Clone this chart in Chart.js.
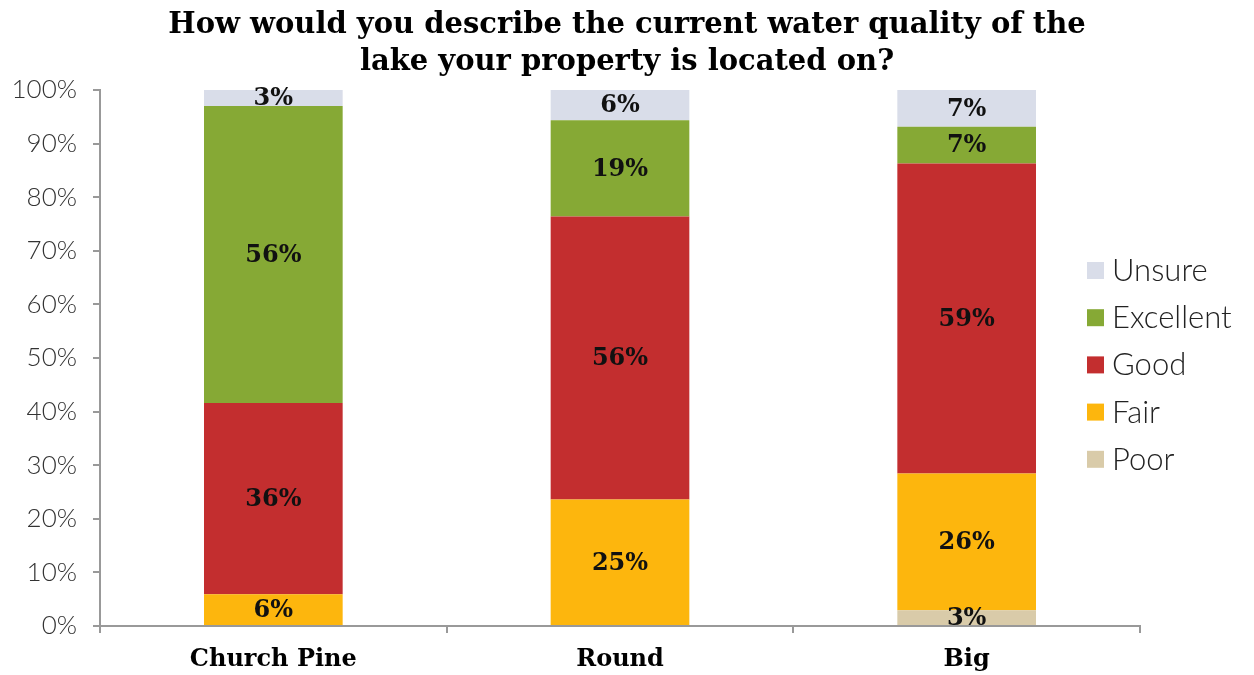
<!DOCTYPE html>
<html>
<head>
<meta charset="utf-8">
<script src="https://cdn.jsdelivr.net/npm/chart.js@4/dist/chart.umd.min.js"></script>
<style>
    html, body { margin: 0; padding: 0; background: #ffffff; }
    #qualityChart { display: block; }
</style>
</head>
<body>
<canvas id="qualityChart" width="1254" height="675"></canvas>
<script>
const lakes = ["Church Pine", "Round", "Big"];
const ratings = ["Poor", "Fair", "Good", "Excellent", "Unsure"];

// survey answers per lake, in percent (rounded, as reported)
const poorValues = [0, 0, 3];
const fairValues = [6, 25, 26];
const goodValues = [36, 56, 59];
const excellentValues = [56, 19, 7];
const unsureValues = [3, 6, 7];

const yTickLabels = ["0%", "10%", "20%", "30%", "40%", "50%", "60%", "70%", "80%", "90%", "100%"];

const titleLines = ["How would you describe the current water quality of the", "lake your property is located on?"];

const ratingColors = {
    Poor: "#d9cba9",
    Fair: "#fdb60d",
    Good: "#c32e2f",
    Excellent: "#86a935",
    Unsure: "#d9dde9"
};

const rawSeries = [poorValues, fairValues, goodValues, excellentValues, unsureValues];

// each bar is stacked to 100%
const totals = lakes.map(function (_, i) {
    return rawSeries.reduce(function (sum, s) { return sum + s[i]; }, 0);
});

const datasets = ratings.map(function (name, k) {
    return {
        label: name,
        data: rawSeries[k].map(function (v, i) { return v / totals[i] * 100; }),
        rawValues: rawSeries[k],
        backgroundColor: ratingColors[name],
        borderWidth: 0,
        categoryPercentage: 0.4,
        barPercentage: 1.0
    };
});

const serifFont = "'DejaVu Serif', Georgia, serif";
const thinFont = "Lato, 'Open Sans', sans-serif";

// title centred on the whole canvas, not just the plot
const pageTitlePlugin = {
    id: "pageTitle",
    afterDraw: function (chart) {
        const ctx = chart.ctx;
        ctx.save();
        ctx.fillStyle = "#000000";
        ctx.font = "bold 29px " + serifFont;
        ctx.textAlign = "center";
        ctx.textBaseline = "alphabetic";
        titleLines.forEach(function (line, n) {
            ctx.fillText(line, chart.width / 2, 33 + n * 37);
        });
        ctx.restore();
    }
};

// value labels in the middle of each segment
const segmentLabelsPlugin = {
    id: "segmentLabels",
    afterDatasetsDraw: function (chart) {
        const ctx = chart.ctx;
        ctx.save();
        ctx.fillStyle = "#111111";
        ctx.font = "bold 24px " + serifFont;
        ctx.textAlign = "center";
        ctx.textBaseline = "middle";
        chart.data.datasets.forEach(function (ds, k) {
            const meta = chart.getDatasetMeta(k);
            meta.data.forEach(function (bar, i) {
                const v = ds.rawValues[i];
                if (!v) {
                    return;
                }
                const mid = (bar.y + bar.base) / 2;
                ctx.fillText(v + "%", bar.x, mid + 1);
            });
        });
        ctx.restore();
    }
};

// legend on the right, top entry is the top segment
const sideLegendPlugin = {
    id: "sideLegend",
    afterDraw: function (chart) {
        const ctx = chart.ctx;
        const x = 1087;
        const startY = 270;
        const step = 47.2;
        ctx.save();
        ctx.font = "300 31px " + thinFont;
        ctx.textBaseline = "middle";
        ctx.textAlign = "left";
        const order = chart.data.datasets.slice().reverse();
        order.forEach(function (ds, n) {
            const y = startY + n * step;
            ctx.fillStyle = ds.backgroundColor;
            ctx.fillRect(x, y - 8, 17, 17);
            ctx.fillStyle = "#222222";
            ctx.fillText(ds.label, x + 25, y + 1);
        });
        ctx.restore();
    }
};

new Chart(document.getElementById("qualityChart"), {
    type: "bar",
    plugins: [pageTitlePlugin, segmentLabelsPlugin, sideLegendPlugin],
    data: {
        labels: lakes,
        datasets: datasets
    },
    options: {
        responsive: false,
        animation: false,
        layout: {
            padding: {
                top: 90,
                right: 114,
                bottom: 0,
                left: 0
            }
        },
        plugins: {
            legend: { display: false },
            tooltip: { enabled: false },
            title: { display: false }
        },
        scales: {
            x: {
                stacked: true,
                offset: true,
                grid: {
                    display: true,
                    drawOnChartArea: false,
                    offset: true,
                    color: "#999999",
                    tickLength: 7,
                    lineWidth: 2
                },
                border: { color: "#999999", width: 2 },
                ticks: {
                    color: "#000000",
                    padding: 12,
                    font: { family: serifFont, size: 24, weight: "bold" }
                },
                afterFit: function (scale) {
                    scale.height = 49;
                }
            },
            y: {
                stacked: true,
                min: 0,
                max: 100,
                grid: {
                    drawOnChartArea: false,
                    color: "#999999",
                    tickLength: 7,
                    lineWidth: 2
                },
                border: { color: "#999999", width: 2 },
                ticks: {
                    stepSize: 10,
                    color: "#333333",
                    padding: 16,
                    font: { family: thinFont, size: 26, weight: "300" },
                    callback: function (value, index) {
                        return yTickLabels[index];
                    }
                },
                afterFit: function (scale) {
                    scale.width = 100;
                }
            }
        }
    }
});
</script>
</body>
</html>
